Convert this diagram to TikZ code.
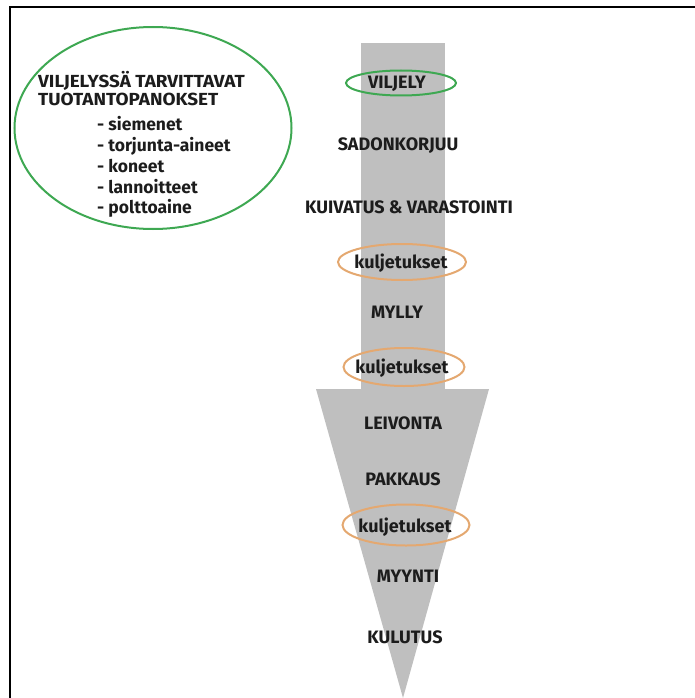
\documentclass[tikz,border=0pt]{standalone}
\usepackage{fontspec}
\setmainfont{Fira Sans}
\newfontfamily\widefont[FakeStretch=1.08]{Fira Sans}
\usetikzlibrary{shapes.geometric}
\definecolor{ArrowGray}{RGB}{191,191,191}
\definecolor{RingGreen}{RGB}{62,168,82}
\definecolor{RingOrange}{RGB}{228,168,112}
\definecolor{InkDark}{RGB}{28,28,28}

\begin{document}
\begin{tikzpicture}[x=1pt, y=-1pt,
  stage/.style={font=\bfseries\fontsize{18}{20}\selectfont, text=InkDark, inner sep=0pt, text height=12.5pt, text depth=0pt},
  listline/.style={font=\bfseries\fontsize{17.5}{19}\selectfont, text=InkDark, inner sep=0pt, anchor=west, text height=12pt, text depth=0pt},
  headline/.style={listline, font=\widefont\bfseries\fontsize{17.5}{19}\selectfont},
  ring/.style={ellipse, draw, line width=2pt, inner sep=0pt}]
\useasboundingbox (0,0) rectangle (694,698);
\pgfmathsetmacro{\gap}{20.75} % line step of the input list

\fill[ArrowGray] (361,43) rectangle (445,389); % shaft
\fill[ArrowGray] (316,389) -- (489,389) -- (403,698) -- cycle; % head
\draw[line width=2pt] (10,7) rectangle (720,720); % black border

% input circle on the left
\node[ring, draw=RingGreen, minimum width=277, minimum height=202] (inputring) at (153,128) {};
\node[headline] (head1) at (38,82) {VILJELYSSÄ TARVITTAVAT};
\node[headline] (head2) at (38,100) {TUOTANTOPANOKSET};
\foreach \item [count=\i] in {siemenet, torjunta-aineet, koneet, lannoitteet, polttoaine}
  \node[listline] (item\i) at (97, 104+\i*\gap) {- \item};

% stages along the arrow
\node[stage] (viljely) at (397,82) {VILJELY};
\node[stage] (sadonkorjuu) at (398,144) {SADONKORJUU};
\node[stage] (kuivatus) at (409,207) {KUIVATUS \& VARASTOINTI};
\node[stage] (kulj1) at (401,262) {kuljetukset};
\node[stage] (mylly) at (397,312) {MYLLY};
\node[stage] (kulj2) at (402,367) {kuljetukset};
\node[stage] (leivonta) at (403,423) {LEIVONTA};
\node[stage] (pakkaus) at (403,479) {PAKKAUS};
\node[stage] (kulj3) at (405,526) {kuljetukset};
\node[stage] (myynti) at (408,576) {MYYNTI};
\node[stage] (kulutus) at (405,637) {KULUTUS};

% rings round the stages
\node[ring, draw=RingGreen, minimum width=110, minimum height=25] (viljelyring) at (401,83) {};
\node[ring, draw=RingOrange, minimum width=128, minimum height=36] (kuljring1) at (402,262) {};
\node[ring, draw=RingOrange, minimum width=121, minimum height=38] (kuljring2) at (404,367) {};
\node[ring, draw=RingOrange, minimum width=127, minimum height=41] (kuljring3) at (406,525) {};
\end{tikzpicture}
\end{document}
